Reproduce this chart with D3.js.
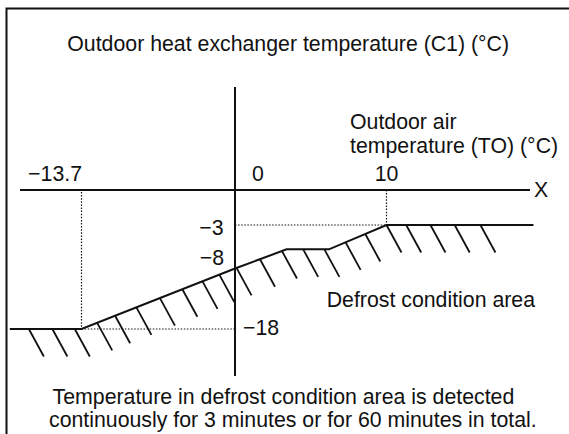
<!DOCTYPE html>
<html>
<head>
<meta charset="utf-8">
<script src="https://cdn.jsdelivr.net/npm/d3@7"></script>
<style>
  html, body { margin: 0; padding: 0; background: #fff; }
  svg { display: block; }
  text { font-family: "Liberation Sans", Arial, Helvetica, sans-serif; font-size: 21.3px; fill: #111; }
</style>
</head>
<body>
<svg id="chart" width="569" height="434"></svg>
<script>
// Outdoor air temperature (TO) marks on the horizontal axis, °C
const xTicks = [-13.7, 0, 10];
// Outdoor heat exchanger temperature (C1) marks on the vertical axis, °C
const yTicks = [-3, -8, -18];
// Defrost boundary: TO values and the matching C1 values
const boundaryTO = [-20.1, -13.7, 0, 3.4, 6.2, 10, 19.7];
const boundaryC1 = [-18, -18, -8, -5.8, -5.8, -3, -3];
// TO values where hatch marks sit on the boundary (defrost side)
const hatchTO = [-18.4, -16.3, -14.3, -12.3, -10.7, -8.8, -6.7, -4.7, -2.9, -1.4,
                 0.1, 1.65, 3.1, 4.5, 5.9, 7.3, 8.6, 10, 11.3, 12.9, 14.5, 16.2];

const W = 569, H = 434;
const ink = "#111";
const svg = d3.select("#chart");
const fmt = d3.format("");

// Schematic (piecewise) scales: each marked value gets its own stop
const x = d3.scaleLinear().domain(xTicks).range([81.5, 235, 386.5]);
const y = d3.scaleLinear().domain([0, ...yTicks]).range([190, 225, 268.5, 329]);

// Frame (open on the right and bottom)
svg.append("path")
  .attr("d", `M6.5,${H + 5}V8.5H${W + 5}`)
  .attr("fill", "none").attr("stroke", ink).attr("stroke-width", 2);

// Axes
const x0 = x(0), y0 = y(0);
svg.append("line").attr("x1", 20).attr("x2", 530).attr("y1", y0).attr("y2", y0)
  .attr("stroke", ink).attr("stroke-width", 2);
svg.append("line").attr("x1", x0).attr("x2", x0).attr("y1", 87).attr("y2", 376)
  .attr("stroke", ink).attr("stroke-width", 2);

// Dotted guides from the break points to the axes
const guides = [
  [[x(-13.7), y0 + 2], [x(-13.7), y(-18)]],
  [[x(-13.7), y(-18)], [x0, y(-18)]],
  [[x(10), y0], [x(10), y(-3)]],
  [[x0, y(-3)], [x(10), y(-3)]]
];
svg.append("g").selectAll("line").data(guides).join("line")
  .attr("x1", d => d[0][0]).attr("y1", d => d[0][1])
  .attr("x2", d => d[1][0]).attr("y2", d => d[1][1])
  .attr("stroke", ink).attr("stroke-width", 1.2).attr("stroke-dasharray", "1.5,1.6");

// Defrost boundary
const pts = boundaryTO.map((t, i) => [x(t), y(boundaryC1[i])]);
svg.append("path")
  .attr("d", d3.line()(pts))
  .attr("fill", "none").attr("stroke", ink).attr("stroke-width", 2)
  .attr("stroke-linejoin", "miter");

// Hatching on the defrost side of the boundary
const px = pts.map(p => p[0]), py = pts.map(p => p[1]);
const yOnBoundary = d3.scaleLinear().domain(px).range(py);
svg.append("g").selectAll("line").data(hatchTO).join("line")
  .attr("x1", t => x(t)).attr("y1", t => yOnBoundary(x(t)))
  .attr("x2", t => x(t) + 15).attr("y2", t => yOnBoundary(x(t)) + 27.5)
  .attr("stroke", ink).attr("stroke-width", 1.8);

// Horizontal axis values
const xLab = [
  { anchor: "end", dx: 0.5 },
  { anchor: "middle", dx: 23 },
  { anchor: "middle", dx: 0 }
];
svg.append("g").selectAll("text").data(xTicks).join("text")
  .attr("x", (d, i) => x(d) + xLab[i].dx).attr("y", 180.5)
  .attr("text-anchor", (d, i) => xLab[i].anchor)
  .text(d => fmt(d));

// Vertical axis values
const yLab = [
  { anchor: "end", dx: -11.5, dy: 9.5 },
  { anchor: "end", dx: -11, dy: -4 },
  { anchor: "start", dx: 8, dy: 5.5 }
];
svg.append("g").selectAll("text").data(yTicks).join("text")
  .attr("x", (d, i) => x0 + yLab[i].dx).attr("y", (d, i) => y(d) + yLab[i].dy)
  .attr("text-anchor", (d, i) => yLab[i].anchor)
  .text(d => fmt(d));

// Titles and notes
const notes = [
  { t: "Outdoor heat exchanger temperature (C1) (°C)", x: 67.3, y: 50.7 },
  { t: "Outdoor air", x: 350, y: 129.3 },
  { t: "temperature (TO) (°C)", x: 350, y: 152.7 },
  { t: "X", x: 534, y: 197 },
  { t: "Defrost condition area", x: 326.7, y: 307 },
  { t: "Temperature in defrost condition area is detected", x: 52.6, y: 404 },
  { t: "continuously for 3 minutes or for 60 minutes in total.", x: 49, y: 427 }
];
svg.append("g").selectAll("text").data(notes).join("text")
  .attr("x", d => d.x).attr("y", d => d.y)
  .text(d => d.t);
</script>
</body>
</html>
